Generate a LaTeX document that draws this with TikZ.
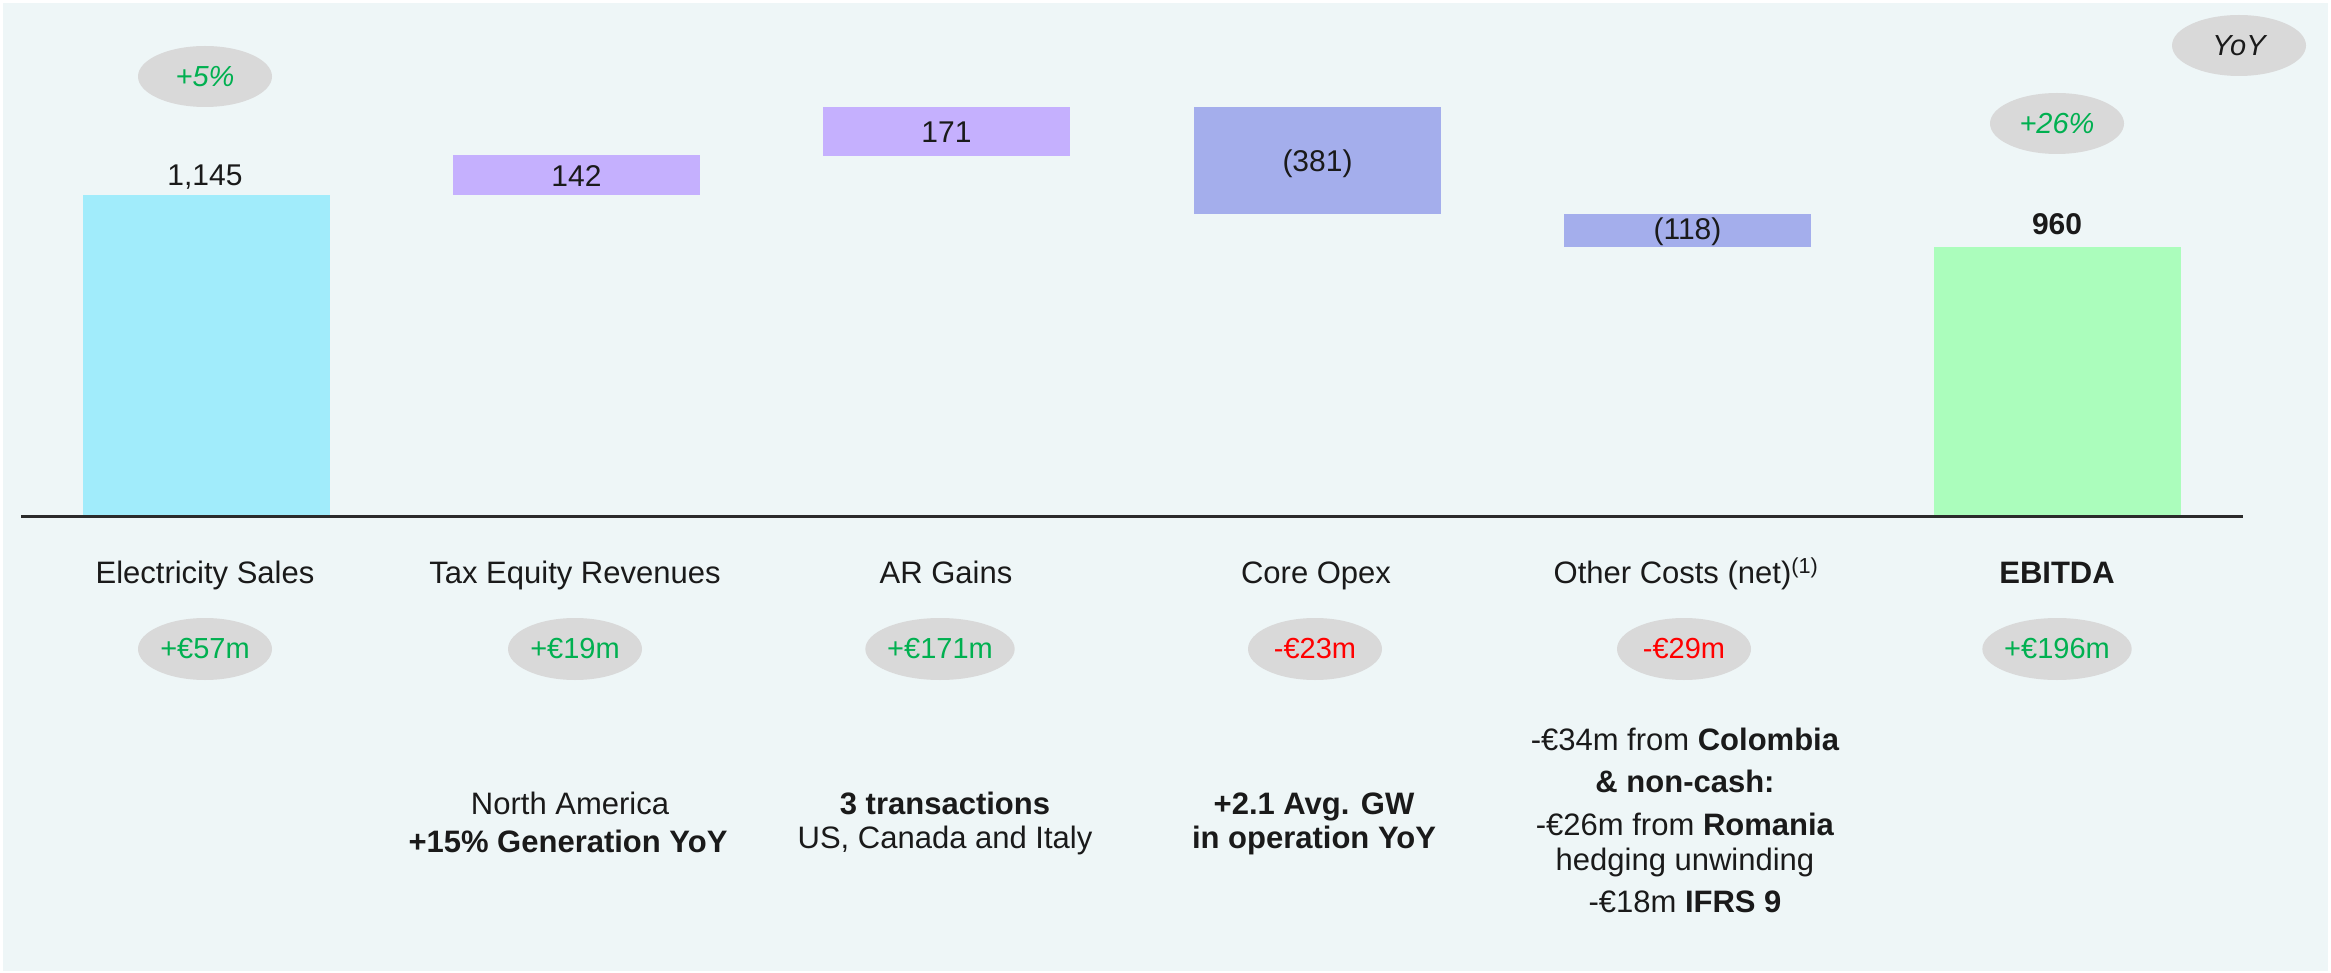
\documentclass[tikz,border=0pt]{standalone}
\usepackage{fontspec}
\setmainfont{Liberation Sans}
\usetikzlibrary{shapes.geometric}
\definecolor{bgc}{RGB}{238,246,247}
\definecolor{cyanbar}{RGB}{161,236,251}
\definecolor{purplebar}{RGB}{197,176,254}
\definecolor{bluebar}{RGB}{164,174,236}
\definecolor{greenbar}{RGB}{171,253,188}
\definecolor{pillc}{RGB}{217,217,217}
\definecolor{txt}{RGB}{26,26,26}
\definecolor{posc}{RGB}{0,176,80}
\definecolor{negc}{RGB}{255,0,0}
\definecolor{axisc}{RGB}{43,43,43}
\tikzset{
  lbl/.style={anchor=base, inner sep=0pt, text=txt, font=\fontsize{31}{36}\selectfont},
  val/.style={anchor=base, inner sep=0pt, text=txt, font=\fontsize{30}{36}\selectfont},
  pill/.style={ellipse, fill=pillc, inner sep=0pt, minimum width=134pt, minimum height=62pt,
     text height=19pt, text depth=0pt, font=\fontsize{29}{34}\selectfont},
  toppill/.style={ellipse, fill=pillc, inner sep=0pt, minimum width=134pt, minimum height=61pt,
     text height=20pt, text depth=0pt, font=\fontsize{29}{34}\selectfont\itshape},
}
\begin{document}
\begin{tikzpicture}[x=1pt,y=-1pt]
\useasboundingbox (0,0) rectangle (2331,973);
\fill[white] (0,0) rectangle (2331,973);
\fill[bgc] (3,3) rectangle (2328,971);
% bars
\fill[cyanbar] (83,195) rectangle (330,516);
\fill[purplebar] (453,155) rectangle (700,195);
\fill[purplebar] (823,107) rectangle (1070,156);
\fill[bluebar] (1194,107) rectangle (1441,214);
\fill[bluebar] (1564,214) rectangle (1811,247);
\fill[greenbar] (1934,247) rectangle (2181,516);
% axis
\draw[axisc, line width=3pt] (21,516) -- (2243,516);
% bar values
\node[val] (v1) at (205,185.7) {1,145};
\node[val] (v2) at (576.5,186.4) {142};
\node[val] (v3) at (946.5,143) {171};
\node[val] (v4) at (1317.5,171.4) {(381)};
\node[val] (v5) at (1687.5,240) {(118)};
\node[val, font=\fontsize{30}{36}\selectfont\bfseries] (v6) at (2057,234.6) {960};
% top pills
\node[toppill, text=posc] (p1) at (205,76.5) {+5\%};
\node[toppill, text=posc] (p6) at (2057,123.5) {+26\%};
\node[toppill, text=txt] (yoy) at (2239,45.5) {YoY};
% category labels
\node[lbl] (c1) at (205,583) {Electricity Sales};
\node[lbl] (c2) at (575,583) {Tax Equity Revenues};
\node[lbl] (c3) at (946,583) {AR Gains};
\node[lbl] (c4) at (1316,583) {Core Opex};
\node[lbl] (c5) at (1686,583) {Other Costs (net)\textsuperscript{(1)}};
\node[lbl, font=\fontsize{31}{36}\selectfont\bfseries] (c6) at (2057,583) {EBITDA};
% delta pills
\node[pill, text=posc] (d1) at (205,649) {+€57m};
\node[pill, text=posc] (d2) at (575,649) {+€19m};
\node[pill, text=posc] (d3) at (940,649) {+€171m};
\node[pill, text=negc] (d4) at (1315,649) {-€23m};
\node[pill, text=negc] (d5) at (1684,649) {-€29m};
\node[pill, text=posc] (d6) at (2057,649) {+€196m};
% details
\node[lbl] (n2a) at (570,814) {North America};
\node[lbl, font=\fontsize{31}{36}\selectfont\bfseries] (n2b) at (568,852) {+15\% Generation YoY};
\node[lbl, font=\fontsize{31}{36}\selectfont\bfseries] (n3a) at (945,814) {3 transactions};
\node[lbl] (n3b) at (945,848) {US, Canada and Italy};
\node[lbl, font=\fontsize{31}{36}\selectfont\bfseries] (n4a) at (1314,814) {+2.1 Avg. GW};
\node[lbl, font=\fontsize{31}{36}\selectfont\bfseries] (n4b) at (1314,848) {in operation YoY};
\node[lbl] (n5a) at (1685,750) {-€34m from \textbf{Colombia}};
\node[lbl, font=\fontsize{31}{36}\selectfont\bfseries] (n5b) at (1685,792) {\& non-cash:};
\node[lbl] (n5c) at (1685,835) {-€26m from \textbf{Romania}};
\node[lbl] (n5d) at (1685,870) {hedging unwinding};
\node[lbl] (n5e) at (1685,912) {-€18m \textbf{IFRS 9}};
\end{tikzpicture}
\end{document}
